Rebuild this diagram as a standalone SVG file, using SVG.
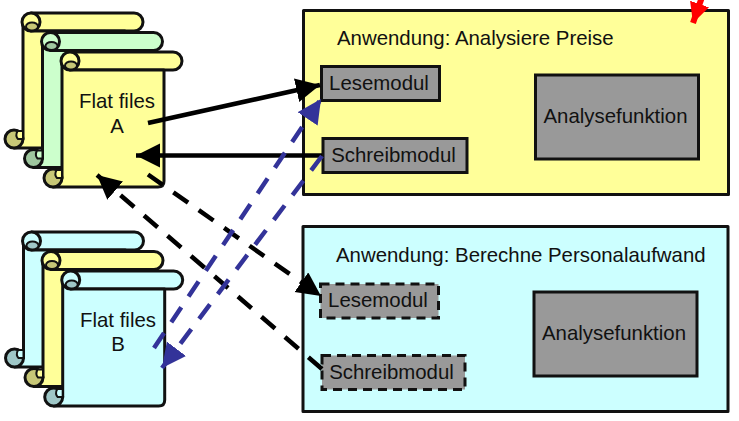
<svg xmlns="http://www.w3.org/2000/svg" width="739" height="421" viewBox="0 0 739 421">
<style>
text{font-family:"Liberation Sans",Arial,sans-serif;font-size:20.400px;fill:#111}
.m{text-anchor:middle}
.s{stroke:#111;stroke-width:3;stroke-linejoin:round}
.y{fill:#ffff99}.c{fill:#ccffff}.g{fill:#ccffcc}
.box{fill:#999;stroke:#111;stroke-width:3}
.dash{stroke-dasharray:9 6}
.con{fill:none;stroke-width:4.500}
.k{stroke:#000}.b{stroke:#333399;stroke-dasharray:18 13}
.kd{stroke:#000;stroke-dasharray:18 13}
.sh{fill:#000;fill-opacity:.22;stroke:none}
.l{stroke-width:2}
</style>
<defs>
<g id="scroll">
<path d="M70 52H173A9 9 0 0 1 173 70H70Z"/>
<path d="M62 61V178L53 187H158Q164 187 164 181V70H70V61Z"/>
<circle cx="53" cy="178" r="9"/>
<circle cx="53" cy="178" r="8" class="sh"/>
<path d="M62 170H56.500Q54 175 57 178H62Z" class="l"/>
<circle cx="70" cy="61" r="9"/>
<ellipse cx="71" cy="65.500" rx="6" ry="4" class="l"/>
<ellipse cx="71" cy="65.500" rx="5" ry="3.200" class="sh"/>
</g>
<marker id="hk" markerUnits="userSpaceOnUse" markerWidth="25" markerHeight="25" refX="24" refY="12" orient="auto"><path d="M0 0L24 12L0 24Z" fill="#000"/></marker>
<marker id="hb" markerUnits="userSpaceOnUse" markerWidth="25" markerHeight="25" refX="24" refY="12" orient="auto"><path d="M0 0L24 12L0 24Z" fill="#333399"/></marker>
<marker id="hr" markerUnits="userSpaceOnUse" markerWidth="22" markerHeight="22" refX="20" refY="10" orient="auto"><path d="M0 0L20 10L0 20Z" fill="#f00"/></marker>
</defs>
<g id="files-a-3"><use href="#scroll" class="s y" x="-39" y="-39"/></g>
<g id="files-a-2"><use href="#scroll" class="s g" x="-19.500" y="-19.500"/></g>
<g id="files-a"><use href="#scroll" class="s y"/><text class="m" x="117" y="108">Flat files</text><text class="m" x="117" y="133">A</text></g>
<g id="files-b-3"><use href="#scroll" class="s c" x="-38.500" y="180"/></g>
<g id="files-b-2"><use href="#scroll" class="s y" x="-19" y="199.500"/></g>
<g id="files-b"><use href="#scroll" class="s c" x="0.700" y="219"/><text class="m" x="118" y="327">Flat files</text><text class="m" x="118" y="351">B</text></g>
<g id="app-preise"><rect x="303.500" y="10.500" width="425" height="184" class="y s"/><text x="337" y="45">Anwendung: Analysiere Preise</text></g>
<g id="lese-1"><rect x="321.500" y="66.500" width="118" height="34" class="box"/><text class="m" x="379" y="90">Lesemodul</text></g>
<g id="schreib-1"><rect x="323" y="138.500" width="144" height="34" class="box"/><text class="m" x="393.500" y="162">Schreibmodul</text></g>
<g id="analyse-1"><rect x="535.500" y="75" width="163" height="84" class="box"/><text class="m" x="615.500" y="123">Analysefunktion</text></g>
<g id="app-personal"><rect x="303" y="226.500" width="425" height="185" class="c s"/><text x="336" y="262">Anwendung: Berechne Personalaufwand</text></g>
<g id="lese-2"><rect x="320.500" y="284" width="118" height="34" class="box dash"/><text class="m" x="378" y="307">Lesemodul</text></g>
<g id="schreib-2"><rect x="322" y="355.500" width="143" height="34" class="box dash"/><text class="m" x="391.500" y="379">Schreibmodul</text></g>
<g id="analyse-2"><rect x="534" y="292" width="163" height="84" class="box"/><text class="m" x="614" y="340">Analysefunktion</text></g>
<g id="connectors">
<line x1="148" y1="123" x2="320" y2="85" class="con k" marker-end="url(#hk)"/>
<line x1="322" y1="155.500" x2="136" y2="155.500" class="con k" marker-end="url(#hk)"/>
<line x1="148" y1="174.500" x2="321" y2="296" class="con kd" marker-end="url(#hk)"/>
<line x1="322" y1="369" x2="97" y2="175" class="con kd" marker-end="url(#hk)"/>
<line x1="154" y1="348" x2="321" y2="99" class="con b" marker-end="url(#hb)"/>
<line x1="322" y1="156" x2="162" y2="368" class="con b" marker-end="url(#hb)"/>
<path d="M702 -3L693 23" fill="none" stroke="#f00" stroke-width="6" marker-end="url(#hr)"/>
</g>
</svg>
